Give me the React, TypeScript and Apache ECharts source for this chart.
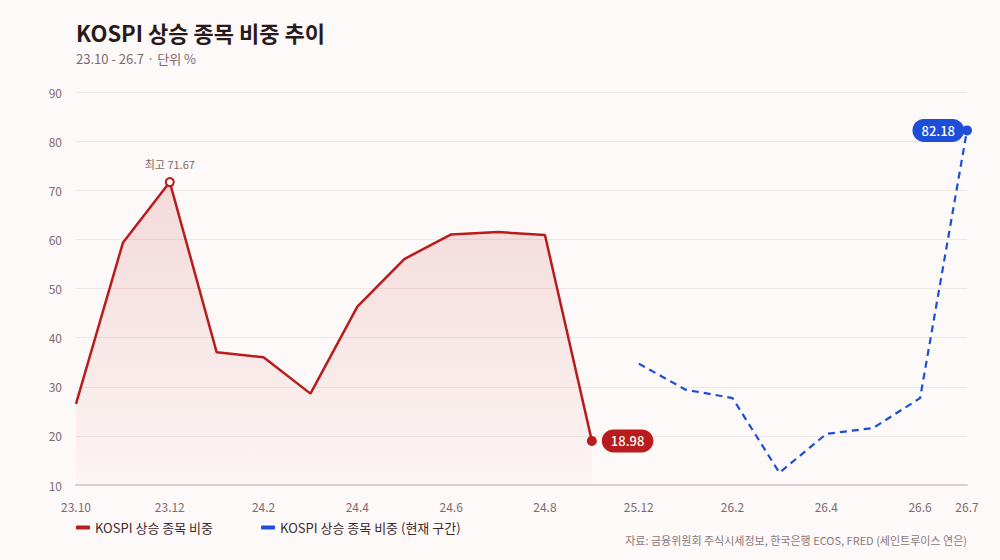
import React, { useEffect, useRef } from 'react';
import * as echarts from 'echarts';

const categories = [
  '23.10', '23.11', '23.12', '24.1', '24.2', '24.3', '24.4', '24.5', '24.6', '24.7', '24.8', '24.9',
  '25.12', '26.1', '26.2', '26.3', '26.4', '26.5', '26.6', '26.7',
];
// past period (23.10 - 24.9)
const pastValues = [26.5, 59.3, 71.67, 37.0, 36.0, 28.6, 46.3, 56.0, 61.0, 61.5, 60.9, 18.98];
// current period (25.12 - 26.7)
const currentValues = [34.7, 29.4, 27.7, 12.5, 20.4, 21.6, 27.7, 82.18];
const yTicks = [10, 20, 30, 40, 50, 60, 70, 80, 90];

const RED = '#b91c1c';
const BLUE = '#1d4ed8';
const FONT = '"Noto Sans CJK KR", "Noto Sans", sans-serif';

const App: React.FC = () => {
  const chartRef = useRef<HTMLDivElement>(null);

  useEffect(() => {
    if (!chartRef.current) return;
    const chart = echarts.init(chartRef.current, null, { renderer: 'svg' });

    const peak = Math.max(...pastValues);
    const pillLabel = (color: string, position: string, distance: number) => ({
      show: true,
      position,
      distance,
      formatter: '{c}',
      color: '#ffffff',
      backgroundColor: color,
      borderRadius: 12,
      padding: [5, 9],
      fontSize: 13,
      fontWeight: 500,
      fontFamily: FONT,
    });

    const pastData = categories.map((_, i) => {
      if (i >= pastValues.length) return null;
      const v = pastValues[i];
      if (v === peak) {
        return {
          value: v,
          symbol: 'circle',
          symbolSize: 8,
          itemStyle: { color: '#ffffff', borderColor: RED, borderWidth: 2 },
          label: {
            show: true,
            position: 'top',
            distance: 8,
            formatter: '최고 {c}',
            color: '#7d6a6c',
            fontSize: 11,
            fontFamily: FONT,
          },
        };
      }
      if (i === pastValues.length - 1) {
        return {
          value: v,
          symbol: 'circle',
          symbolSize: 10,
          itemStyle: { color: RED },
          label: pillLabel(RED, 'right', 5),
        };
      }
      return v;
    });

    const offset = categories.length - currentValues.length;
    const currentData = categories.map((_, i) => {
      if (i < offset) return null;
      const v = currentValues[i - offset];
      if (i === categories.length - 1) {
        return {
          value: v,
          symbol: 'circle',
          symbolSize: 10,
          itemStyle: { color: BLUE },
          label: pillLabel(BLUE, 'left', -2),
        };
      }
      return v;
    });

    const option: any = {
      animation: false,
      backgroundColor: '#fdf9f8',
      textStyle: { fontFamily: FONT },
      title: {
        text: 'KOSPI 상승 종목 비중 추이',
        subtext: '23.10 - 26.7 · 단위 %',
        left: 71,
        top: 16,
        itemGap: 9,
        textStyle: { fontSize: 22, fontWeight: 'bold', color: '#2a1a1c', fontFamily: FONT },
        subtextStyle: { fontSize: 13, color: '#7d6a6c', fontFamily: FONT },
      },
      legend: {
        left: 71,
        top: 516,
        itemGap: 48,
        itemWidth: 14,
        itemHeight: 4,
        icon: 'roundRect',
        textStyle: { fontSize: 13, color: '#3a2a2c', fontFamily: FONT },
        data: [
          { name: 'KOSPI 상승 종목 비중', itemStyle: { color: RED } },
          { name: 'KOSPI 상승 종목 비중 (현재 구간)', itemStyle: { color: BLUE } },
        ],
      },
      grid: { left: 76, right: 33, top: 92, bottom: 75 },
      xAxis: {
        type: 'category',
        data: categories,
        boundaryGap: false,
        axisLine: { lineStyle: { color: '#dccfd0', width: 2 } },
        axisTick: { show: false },
        axisLabel: {
          interval: (index: number) => index % 2 === 0 || index === categories.length - 1,
          color: '#7d6a6c',
          fontSize: 12,
          margin: 15,
          hideOverlap: false,
          fontFamily: FONT,
        },
      },
      yAxis: {
        type: 'value',
        min: yTicks[0],
        max: yTicks[yTicks.length - 1],
        interval: 10,
        axisLine: { show: false },
        axisTick: { show: false },
        axisLabel: { color: '#7d6a6c', fontSize: 12, margin: 14, fontFamily: FONT },
        splitLine: { lineStyle: { color: '#f1e6e6', width: 1 } },
      },
      series: [
        {
          name: 'KOSPI 상승 종목 비중',
          type: 'line',
          data: pastData,
          symbol: 'none',
          showSymbol: true,
          lineStyle: { color: RED, width: 2.5 },
          itemStyle: { color: RED },
          areaStyle: {
            color: new echarts.graphic.LinearGradient(0, 0, 0, 1, [
              { offset: 0, color: 'rgba(185,28,28,0.2)' },
              { offset: 1, color: 'rgba(185,28,28,0.03)' },
            ]),
          },
          z: 3,
        },
        {
          name: 'KOSPI 상승 종목 비중 (현재 구간)',
          type: 'line',
          data: currentData,
          symbol: 'none',
          showSymbol: true,
          lineStyle: { color: BLUE, width: 2.2, type: [7, 5] },
          itemStyle: { color: BLUE },
          z: 3,
        },
      ],
      graphic: [
        {
          type: 'text',
          right: 33,
          top: 534,
          style: {
            text: '자료: 금융위원회 주식시세정보, 한국은행 ECOS, FRED (세인트루이스 연은)',
            fill: '#8a7678',
            fontSize: 11,
            fontFamily: FONT,
          },
        },
      ],
    };

    chart.setOption(option);
    const resize = () => chart.resize();
    window.addEventListener('resize', resize);
    return () => {
      window.removeEventListener('resize', resize);
      chart.dispose();
    };
  }, []);

  return (
    <div
      ref={chartRef}
      style={{ position: 'fixed', left: 0, top: 0, width: '1000px', height: '560px', background: '#fdf9f8' }}
    />
  );
};

export default App;
